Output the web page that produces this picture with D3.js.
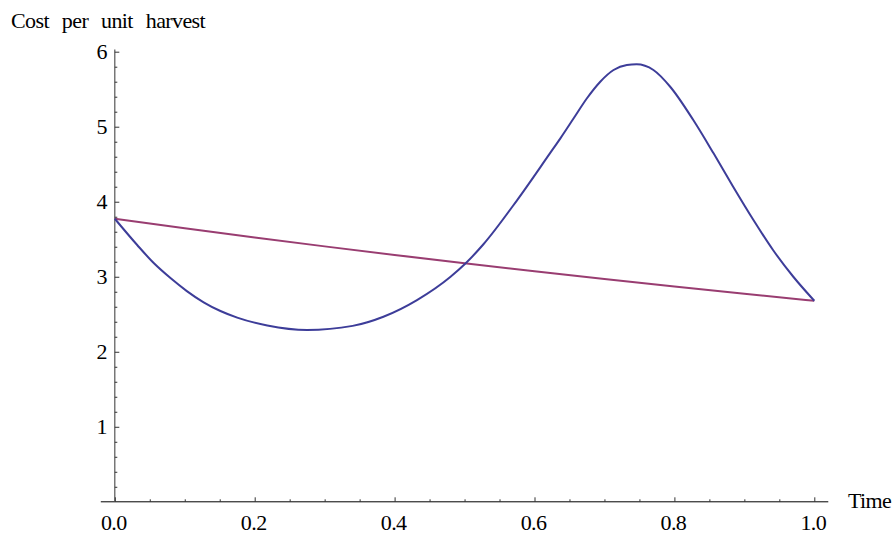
<!DOCTYPE html>
<html>
<head>
<meta charset="utf-8">
<script src="https://cdnjs.cloudflare.com/ajax/libs/d3/7.9.0/d3.min.js"></script>
<style>
  html, body { margin: 0; padding: 0; background: #fff; }
  svg { display: block; }
  .lbl { font-family: "Liberation Serif", "DejaVu Serif", serif; font-size: 22px; letter-spacing: -0.6px; fill: #000; }
</style>
</head>
<body>
<svg id="chart" width="895" height="535"></svg>
<script>
// values
const blueT = [0, 0.032, 0.056, 0.08, 0.103, 0.127, 0.151, 0.175, 0.218, 0.275, 0.34, 0.384, 0.432,
  0.48, 0.502, 0.527, 0.575, 0.622, 0.637, 0.656, 0.675, 0.694, 0.713, 0.732, 0.746, 0.77, 0.794,
  0.827, 0.856, 0.884, 0.913, 0.941, 0.97, 1.0];
const blueCost = [3.773, 3.423, 3.179, 2.979, 2.809, 2.659, 2.543, 2.455, 2.35, 2.29, 2.345, 2.467, 2.689,
  3.0, 3.183, 3.433, 4.019, 4.644, 4.845, 5.112, 5.379, 5.60, 5.756, 5.823, 5.832, 5.756, 5.533,
  5.089, 4.645, 4.2, 3.756, 3.356, 3.0, 2.68];
const purpleT = [0, 0.1, 0.2, 0.3, 0.4, 0.5, 0.6, 0.7, 0.8, 0.9, 1.0];
const purpleCost = [3.773, 3.646, 3.524, 3.405, 3.291, 3.18, 3.074, 2.971, 2.871, 2.774, 2.68];

const xTicks = [0, 0.2, 0.4, 0.6, 0.8, 1.0];
const xMinor = [0.05, 0.1, 0.15, 0.25, 0.3, 0.35, 0.45, 0.5, 0.55, 0.65, 0.7, 0.75, 0.85, 0.9, 0.95];
const yTicks = [1, 2, 3, 4, 5, 6];
const yMinor = [0.2, 0.4, 0.6, 0.8, 1.2, 1.4, 1.6, 1.8, 2.2, 2.4, 2.6, 2.8, 3.2, 3.4, 3.6, 3.8,
  4.2, 4.4, 4.6, 4.8, 5.2, 5.4, 5.6, 5.8];

const BLUE = '#3d3d99';
const PURPLE = '#993d71';

const svg = d3.select('#chart');
const x = d3.scaleLinear().domain([0, 1]).range([114.8, 814.3]);
const y = d3.scaleLinear().domain([0, 6]).range([501.8, 51.7]);

// axis lines
svg.append('line')
  .attr('x1', x(-0.02)).attr('x2', x(1.02)).attr('y1', y(0)).attr('y2', y(0))
  .attr('stroke', '#000').attr('stroke-width', 1);
svg.append('line')
  .attr('x1', x(0)).attr('x2', x(0)).attr('y1', y(0)).attr('y2', y(6.03))
  .attr('stroke', '#555').attr('stroke-width', 1.2);

// x ticks (inward)
const gx = svg.append('g').attr('transform', `translate(0,${y(0)})`);
gx.call(d3.axisBottom(x).tickValues(xTicks).tickSize(-4.5).tickPadding(13).tickFormat(d3.format('.1f')));
const gxm = svg.append('g').attr('transform', `translate(0,${y(0)})`);
gxm.call(d3.axisBottom(x).tickValues(xMinor).tickSize(-2.5).tickFormat(''));

// y ticks (inward)
const gy = svg.append('g').attr('transform', `translate(${x(0)},0)`);
gy.call(d3.axisLeft(y).tickValues(yTicks).tickSize(-4.5).tickPadding(8).tickFormat(d3.format('d')));
const gym = svg.append('g').attr('transform', `translate(${x(0)},0)`);
gym.call(d3.axisLeft(y).tickValues(yMinor).tickSize(-2.5).tickFormat(''));

svg.selectAll('.domain').remove();
svg.selectAll('g').attr('font-family', null).attr('font-size', null);
svg.selectAll('.tick line').attr('stroke', '#333').attr('stroke-width', 1);
svg.selectAll('.tick text').attr('class', 'lbl')
  .attr('font-family', 'Liberation Serif').attr('fill', '#000');
gx.selectAll('.tick text').attr('dx', '-1.5');

// axis labels
svg.append('text').attr('class', 'lbl').attr('x', 11).attr('y', 28)
  .style('word-spacing', '8px').text('Cost per unit harvest');
svg.append('text').attr('class', 'lbl').attr('x', 848).attr('y', 508).text('Time');

// curves
const line = d3.line().curve(d3.curveMonotoneX);
svg.append('path')
  .attr('d', line(purpleT.map((t, i) => [x(t), y(purpleCost[i])])))
  .attr('fill', 'none').attr('stroke', PURPLE).attr('stroke-width', 2);
svg.append('path')
  .attr('d', line(blueT.map((t, i) => [x(t), y(blueCost[i])])))
  .attr('fill', 'none').attr('stroke', BLUE).attr('stroke-width', 2);
</script>
</body>
</html>
